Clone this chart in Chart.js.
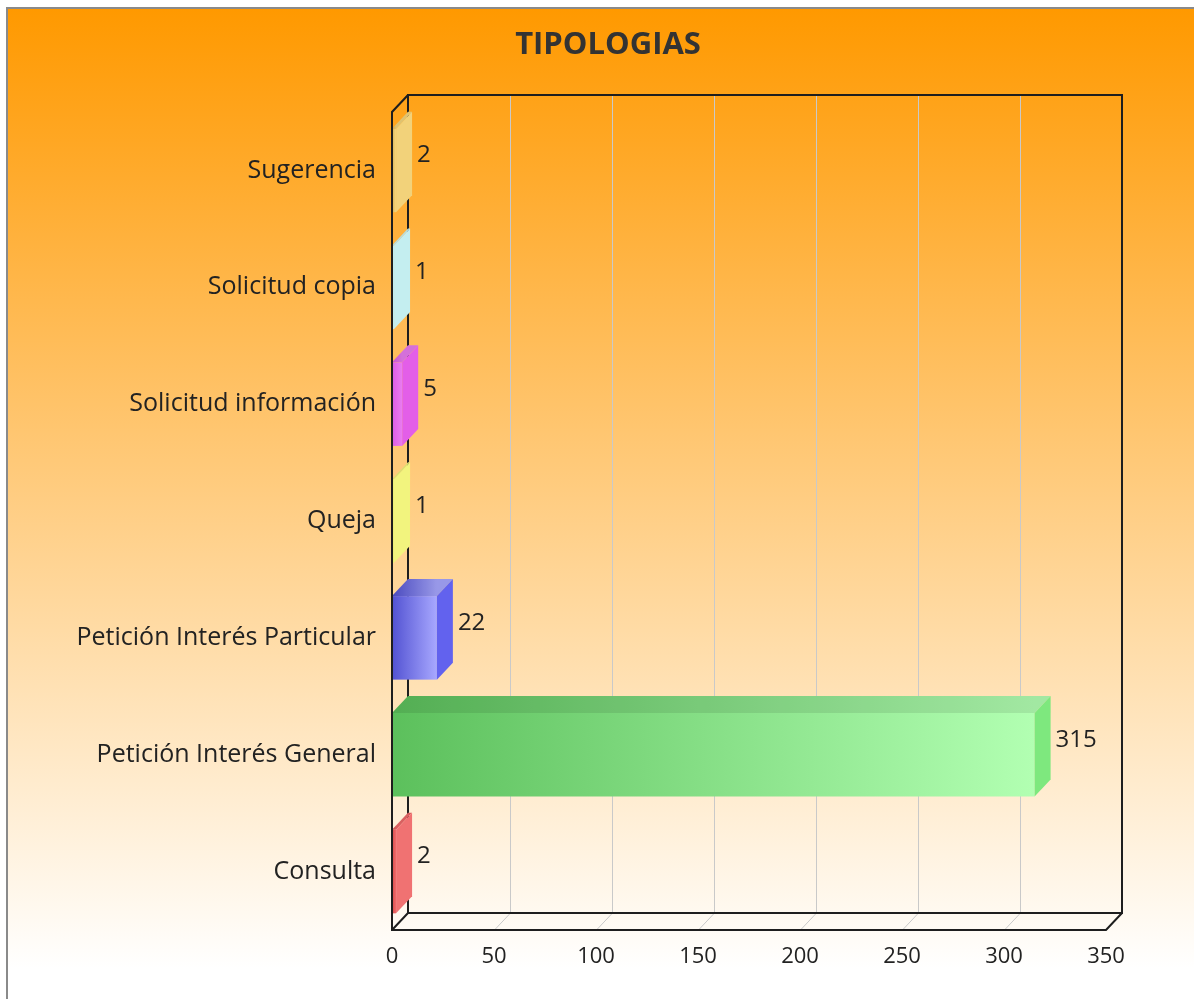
<!DOCTYPE html>
<html>
<head>
<meta charset="utf-8">
<script src="https://cdn.jsdelivr.net/npm/chart.js@4"></script>
<style>
  html, body { margin: 0; padding: 0; background: #fff; overflow: hidden; }
  #fondo {
    position: absolute; left: 6px; top: 7px; width: 1200px; height: 1000px;
    border-top: 2px solid #8a8a8a; border-left: 2px solid #8a8a8a;
    background: linear-gradient(#ff9900 0%, #ffffff 96%);
  }
  #wrap { position: absolute; left: 0; top: 0; width: 1194px; height: 999px; }
</style>
</head>
<body>
<div id="fondo"></div>
<div id="wrap"><canvas id="grafico" width="1194" height="999"></canvas></div>
<script>
// datos
const categorias = ["Sugerencia", "Solicitud copia", "Solicitud información", "Queja",
  "Petición Interés Particular", "Petición Interés General", "Consulta"];
const valores = [2, 1, 5, 1, 22, 315, 2];
const ticksX = [0, 50, 100, 150, 200, 250, 300, 350];

// colores de cada barra (oscuro -> claro en la cara frontal, y cara lateral)
const oscuro = ["#d8b458", "#ace2e6", "#dc5ce4", "#dfe266", "#5252d2", "#5cc05c", "#d84c4c"];
const claro = ["#f6d67c", "#c8f2f4", "#ea7cf0", "#f2f47c", "#a8a8ff", "#b2ffb2", "#ee6a6a"];
const lateral = ["#f2d27a", "#c4eef0", "#e35ee8", "#f2f47e", "#6262ee", "#7ee87e", "#f07272"];

const DX = 16, DY = 17; // profundidad 3D
const fuente = "'Open Sans', sans-serif";

const tresD = {
  id: "tresD",
  beforeDraw(chart) {
    const ctx = chart.ctx;
    ctx.save();
    ctx.fillStyle = "#333";
    ctx.font = "bold 31px " + fuente;
    ctx.textAlign = "center";
    ctx.textBaseline = "middle";
    ctx.fillText("TIPOLOGIAS", 608, 45);
    ctx.restore();
  },
  beforeDatasetsDraw(chart) {
    const { ctx, chartArea: a, scales } = chart;
    const x = scales.x;
    ctx.save();
    // rejilla: pared del fondo y suelo
    ctx.strokeStyle = "#c9c9c9";
    ctx.lineWidth = 1;
    ticksX.forEach((v) => {
      const px = Math.round(x.getPixelForValue(v)) + 0.5;
      ctx.beginPath();
      ctx.moveTo(px + DX, a.top - DY);
      ctx.lineTo(px + DX, a.bottom - DY);
      ctx.lineTo(px, a.bottom);
      ctx.stroke();
    });
    // marco
    ctx.strokeStyle = "#1e1e1e";
    ctx.lineWidth = 2;
    ctx.strokeRect(a.left + DX, a.top - DY, a.right - a.left, a.bottom - a.top);
    ctx.beginPath();
    ctx.moveTo(a.left + DX, a.top - DY);
    ctx.lineTo(a.left, a.top);
    ctx.lineTo(a.left, a.bottom);
    ctx.lineTo(a.right, a.bottom);
    ctx.lineTo(a.right + DX, a.bottom - DY);
    ctx.moveTo(a.left, a.bottom);
    ctx.lineTo(a.left + DX, a.bottom - DY);
    ctx.stroke();
    ctx.restore();
  },
  afterDatasetsDraw(chart) {
    const ctx = chart.ctx;
    const meta = chart.getDatasetMeta(0);
    ctx.save();
    meta.data.forEach((bar, i) => {
      const p = bar.getProps(["x", "y", "base", "height"], true);
      const xe = p.x, b = p.base, top = p.y - p.height / 2, bot = p.y + p.height / 2;
      const g = ctx.createLinearGradient(b, 0, Math.max(xe, b + 1), 0);
      g.addColorStop(0, oscuro[i]);
      g.addColorStop(1, claro[i]);
      // cara frontal
      ctx.fillStyle = g;
      ctx.fillRect(b, top, xe - b, bot - top);
      // cara superior
      ctx.beginPath();
      ctx.moveTo(b, top);
      ctx.lineTo(b + DX, top - DY);
      ctx.lineTo(xe + DX, top - DY);
      ctx.lineTo(xe, top);
      ctx.closePath();
      ctx.fill();
      ctx.fillStyle = "rgba(0,0,0,0.09)";
      ctx.fill();
      // cara lateral
      ctx.beginPath();
      ctx.moveTo(xe, top);
      ctx.lineTo(xe + DX, top - DY);
      ctx.lineTo(xe + DX, bot - DY);
      ctx.lineTo(xe, bot);
      ctx.closePath();
      ctx.fillStyle = lateral[i];
      ctx.fill();
      // valor
      ctx.fillStyle = "#222";
      ctx.font = "24px " + fuente;
      ctx.textAlign = "left";
      ctx.textBaseline = "middle";
      ctx.fillText(String(valores[i]), xe + DX + 5, p.y - 15);
    });
    // linea frontal izquierda por encima
    const a = chart.chartArea;
    ctx.strokeStyle = "#1e1e1e";
    ctx.lineWidth = 2;
    ctx.beginPath();
    ctx.moveTo(a.left, a.top);
    ctx.lineTo(a.left, a.bottom);
    ctx.stroke();
    ctx.restore();
  }
};

new Chart(document.getElementById("grafico"), {
  type: "bar",
  data: {
    labels: categorias,
    datasets: [{
      data: valores,
      backgroundColor: "rgba(0,0,0,0)",
      borderWidth: 0,
      barPercentage: 0.715,
      categoryPercentage: 1
    }]
  },
  options: {
    indexAxis: "y",
    responsive: false,
    animation: false,
    layout: { padding: { top: 112, right: 88, left: 0, bottom: 0 } },
    plugins: { legend: { display: false }, tooltip: { enabled: false }, title: { display: false } },
    scales: {
      x: {
        min: ticksX[0],
        max: ticksX[ticksX.length - 1],
        ticks: { stepSize: ticksX[1] - ticksX[0], color: "#222", font: { size: 22, family: fuente }, padding: 14 },
        grid: { display: false, drawTicks: false },
        border: { display: false },
        afterFit(s) { s.height = 69; }
      },
      y: {
        ticks: { color: "#222", font: { size: 25, family: fuente }, padding: 16 },
        grid: { display: false, drawTicks: false },
        border: { display: false },
        afterFit(s) { s.width = 392; }
      }
    }
  },
  plugins: [tresD]
});
</script>
</body>
</html>
